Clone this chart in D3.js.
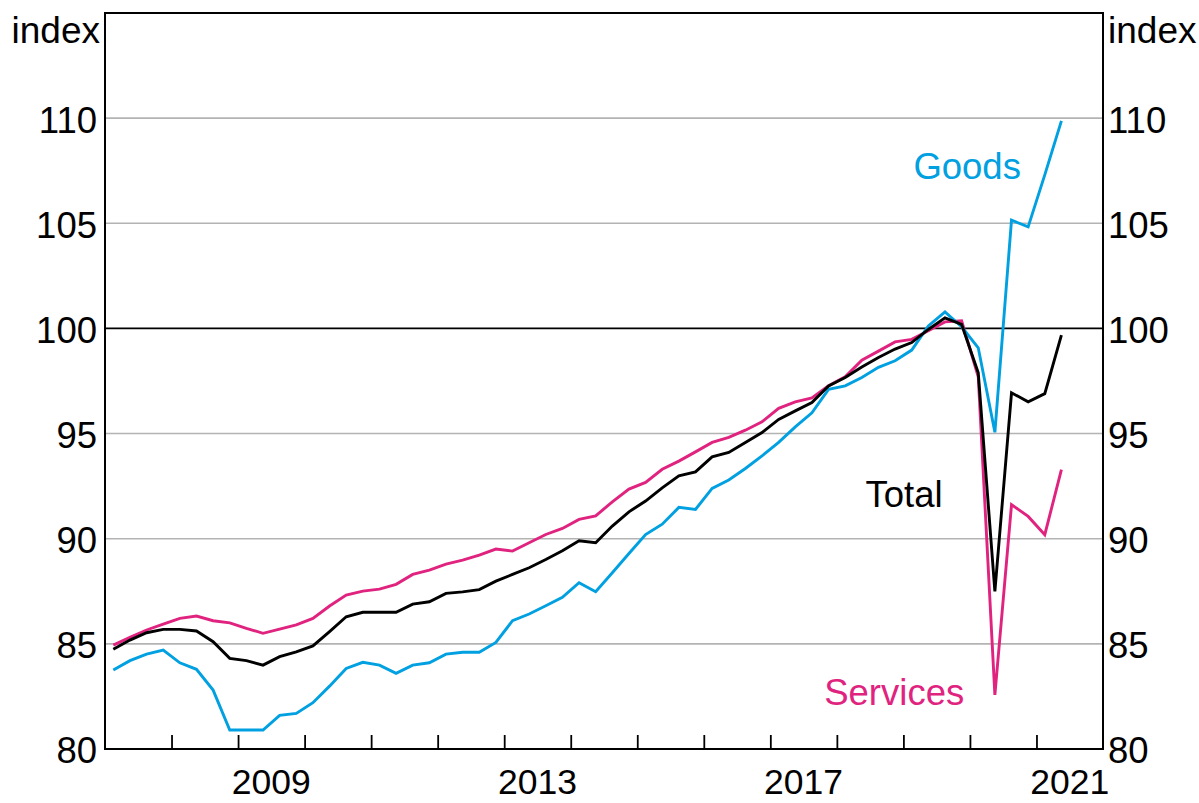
<!DOCTYPE html>
<html>
<head>
<meta charset="utf-8">
<script src="https://cdn.jsdelivr.net/npm/d3@7"></script>
<style>
  html, body { margin: 0; padding: 0; background: #fff; }
  svg { display: block; }
  text { font-family: "Liberation Sans", Arial, sans-serif; }
</style>
</head>
<body>
<svg id="chart" width="1199" height="803"></svg>
<script>
// Quarterly observations, 2007Q1 – 2021Q2
const quarters = [
  "2007Q1","2007Q2","2007Q3","2007Q4","2008Q1","2008Q2","2008Q3","2008Q4",
  "2009Q1","2009Q2","2009Q3","2009Q4","2010Q1","2010Q2","2010Q3","2010Q4",
  "2011Q1","2011Q2","2011Q3","2011Q4","2012Q1","2012Q2","2012Q3","2012Q4",
  "2013Q1","2013Q2","2013Q3","2013Q4","2014Q1","2014Q2","2014Q3","2014Q4",
  "2015Q1","2015Q2","2015Q3","2015Q4","2016Q1","2016Q2","2016Q3","2016Q4",
  "2017Q1","2017Q2","2017Q3","2017Q4","2018Q1","2018Q2","2018Q3","2018Q4",
  "2019Q1","2019Q2","2019Q3","2019Q4","2020Q1","2020Q2","2020Q3","2020Q4",
  "2021Q1","2021Q2"
];

const goods = [
  83.76, 84.20, 84.51, 84.70, 84.10, 83.79, 82.80, 80.90,
  80.90, 80.90, 81.60, 81.69, 82.20, 82.99, 83.83, 84.12,
  83.99, 83.60, 83.99, 84.10, 84.51, 84.60, 84.60, 85.07,
  86.10, 86.42, 86.81, 87.21, 87.91, 87.48, 88.38, 89.30,
  90.20, 90.69, 91.49, 91.39, 92.39, 92.79, 93.34, 93.94,
  94.58, 95.32, 95.99, 97.10, 97.27, 97.67, 98.15, 98.46,
  98.97, 100.12, 100.79, 100.08, 99.08, 95.06, 105.15, 104.83,
  107.30, 109.87
];

const total = [
  84.74, 85.18, 85.53, 85.69, 85.69, 85.61, 85.10, 84.31,
  84.20, 83.99, 84.39, 84.62, 84.90, 85.58, 86.29, 86.50,
  86.50, 86.50, 86.89, 87.00, 87.40, 87.47, 87.58, 87.98,
  88.30, 88.62, 89.01, 89.43, 89.90, 89.81, 90.60, 91.28,
  91.79, 92.42, 92.99, 93.18, 93.89, 94.10, 94.58, 95.05,
  95.67, 96.08, 96.48, 97.26, 97.67, 98.17, 98.62, 99.02,
  99.33, 99.95, 100.50, 100.19, 97.89, 87.49, 96.94, 96.51,
  96.90, 99.68
];

const services = [
  84.94, 85.31, 85.66, 85.94, 86.21, 86.32, 86.10, 86.00,
  85.74, 85.50, 85.70, 85.90, 86.21, 86.80, 87.32, 87.51,
  87.60, 87.83, 88.30, 88.51, 88.79, 88.98, 89.22, 89.51,
  89.41, 89.81, 90.20, 90.49, 90.92, 91.09, 91.75, 92.36,
  92.68, 93.30, 93.69, 94.13, 94.58, 94.82, 95.16, 95.56,
  96.20, 96.51, 96.70, 97.27, 97.70, 98.49, 98.92, 99.36,
  99.48, 99.89, 100.31, 100.36, 97.70, 82.57, 91.62, 91.06,
  90.19, 93.29
];

const yTicks = [80, 85, 90, 95, 100, 105, 110];
const xTickYears = [2008, 2009, 2010, 2011, 2012, 2013, 2014, 2015, 2016, 2017, 2018, 2019, 2020, 2021];
const xLabelYears = [2009, 2013, 2017, 2021];

const seriesNames = ["Goods", "Total", "Services"];
const seriesColors = ["#00a0e1", "#000000", "#e0237f"];
// label anchor positions expressed in data units (year, index value)
const labelYears = [2019.15, 2018.43, 2017.81];
const labelValues = [107.1, 91.5, 82.1];

// ---------- layout ----------
const svg = d3.select("#chart");
const plotLeft = 105, plotRight = 1103, plotTop = 13, plotBottom = 749;
const FS = 36.5;

const x = d3.scaleLinear().domain([2007, 2022]).range([plotLeft, plotRight]);
const y = d3.scaleLinear().domain([80, 115]).range([plotBottom, plotTop]);

const qPos = q => {
  const yr = +q.slice(0, 4), qq = +q.slice(5);
  return yr + (qq - 0.5) / 4;
};

// gridlines
svg.append("g").selectAll("line")
  .data(yTicks.filter(v => v !== 80))
  .join("line")
  .attr("x1", plotLeft).attr("x2", plotRight)
  .attr("y1", d => y(d)).attr("y2", d => y(d))
  .attr("stroke", d => d === 100 ? "#000" : "#b3b3b3")
  .attr("stroke-width", d => d === 100 ? 1.8 : 1.6);

// series lines
const line = d3.line()
  .x((d, i) => x(qPos(quarters[i])))
  .y(d => y(d));

const allSeries = [goods, total, services];
// draw order: services, goods, total on top
[2, 0, 1].forEach(k => {
  svg.append("path")
    .datum(allSeries[k])
    .attr("d", line)
    .attr("fill", "none")
    .attr("stroke", seriesColors[k])
    .attr("stroke-width", 2.9)
    .attr("stroke-linejoin", "miter")
    .attr("stroke-miterlimit", 3);
});

// frame
svg.append("rect")
  .attr("x", plotLeft).attr("y", plotTop)
  .attr("width", plotRight - plotLeft).attr("height", plotBottom - plotTop)
  .attr("fill", "none").attr("stroke", "#000").attr("stroke-width", 2);

// x axis (ticks pointing inward)
const xAxis = d3.axisBottom(x)
  .tickValues(xTickYears)
  .tickSize(-14)
  .tickFormat("");
const gx = svg.append("g").attr("transform", `translate(0,${plotBottom})`).call(xAxis);
gx.select(".domain").remove();
gx.selectAll(".tick line").attr("stroke", "#000").attr("stroke-width", 1.8);

svg.append("g").selectAll("text")
  .data(xLabelYears)
  .join("text")
  .attr("x", d => x(d + 0.5))
  .attr("y", 794)
  .attr("text-anchor", "middle")
  .attr("font-size", 35.5)
  .attr("fill", "#000")
  .text(d => d);

// y axes (labels only)
const yLeft = d3.axisLeft(y).tickValues(yTicks).tickSize(0).tickPadding(8);
const gyl = svg.append("g").attr("transform", `translate(${plotLeft},0)`).call(yLeft);
gyl.select(".domain").remove();
gyl.selectAll("text").attr("font-size", FS).attr("fill", "#000")
  .attr("font-family", "'Liberation Sans', Arial, sans-serif").attr("dy", "0.38em");

const yRight = d3.axisRight(y).tickValues(yTicks).tickSize(0).tickPadding(5);
const gyr = svg.append("g").attr("transform", `translate(${plotRight},0)`).call(yRight);
gyr.select(".domain").remove();
gyr.selectAll("text").attr("font-size", FS).attr("fill", "#000")
  .attr("font-family", "'Liberation Sans', Arial, sans-serif").attr("dy", "0.38em");

// unit labels
svg.append("text").attr("x", 100).attr("y", 43).attr("text-anchor", "end")
  .attr("font-size", 37).text("index");
svg.append("text").attr("x", 1108).attr("y", 43).attr("text-anchor", "start")
  .attr("font-size", 37).text("index");

// series labels
svg.append("g").selectAll("text")
  .data(seriesNames)
  .join("text")
  .attr("x", (d, i) => x(labelYears[i]))
  .attr("y", (d, i) => y(labelValues[i]))
  .attr("font-size", FS)
  .attr("fill", (d, i) => seriesColors[i])
  .text(d => d);
</script>
</body>
</html>
